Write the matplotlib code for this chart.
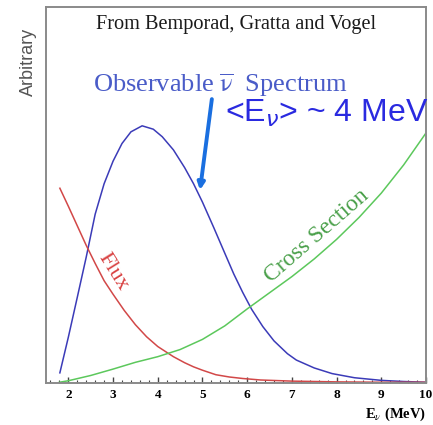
import matplotlib
matplotlib.use("Agg")
import matplotlib.pyplot as plt
from matplotlib.ticker import MultipleLocator

# ---- data (arbitrary units) ----
spec_E = [1.81, 2.0, 2.2, 2.4, 2.6, 2.8, 3.0, 3.2, 3.4, 3.65, 3.9, 4.1, 4.35, 4.6, 4.8,
          5.0, 5.25, 5.5, 5.7, 5.9, 6.1, 6.35, 6.6, 6.9, 7.1, 7.5, 7.9, 8.4, 9.0, 9.5, 10.0]
spec_y = [0.027, 0.122, 0.228, 0.335, 0.449, 0.530, 0.590, 0.637, 0.668, 0.684, 0.675,
          0.655, 0.620, 0.573, 0.530, 0.481, 0.414, 0.345, 0.290, 0.241, 0.196, 0.150,
          0.112, 0.078, 0.061, 0.040, 0.025, 0.014, 0.007, 0.004, 0.002]

flux_E = [1.81, 2.0, 2.2, 2.4, 2.6, 2.8, 3.0, 3.25, 3.5, 3.75, 4.0, 4.35, 4.6, 4.8, 5.0,
          5.3, 5.6, 5.9, 6.3, 7.0, 8.0, 9.0, 10.0]
flux_y = [0.518, 0.470, 0.418, 0.366, 0.318, 0.272, 0.236, 0.193, 0.155, 0.123, 0.097,
          0.070, 0.054, 0.043, 0.034, 0.022, 0.016, 0.012, 0.008, 0.005, 0.003, 0.002, 0.002]

xsec_E = [1.8, 2.0, 2.5, 3.0, 3.5, 4.0, 4.5, 5.0, 5.5, 6.0, 6.5, 7.0, 7.5, 8.0, 8.5,
          9.0, 9.5, 10.0]
xsec_y = [0.002, 0.006, 0.020, 0.037, 0.055, 0.070, 0.089, 0.116, 0.152, 0.197, 0.240,
          0.283, 0.330, 0.382, 0.440, 0.505, 0.580, 0.665]

x_ticks = [2, 3, 4, 5, 6, 7, 8, 9, 10]
x_tick_labels = ["2", "3", "4", "5", "6", "7", "8", "9", "10"]

plt.rcParams["mathtext.fontset"] = "stix"

fig = plt.figure(figsize=(4.33, 4.25), dpi=100)
ax = fig.add_axes([46/433, 1-383/425, 380/433, 376/425])

blue = "#3b3bb8"
red = "#d24848"
green = "#5cc85c"

ax.plot(spec_E, spec_y, color=blue, lw=1.1)
ax.plot(flux_E, flux_y, color=red, lw=1.1)
ax.plot(xsec_E, xsec_y, color=green, lw=1.1)

ax.set_xlim(1.5, 10)
ax.set_ylim(0, 1)

for s in ax.spines.values():
    s.set_color("#8a8a8a")
    s.set_linewidth(1.4)

ax.set_yticks([])
ax.set_xticks(x_ticks)
ax.set_xticklabels(x_tick_labels, family="Liberation Serif", fontweight="bold", fontsize=9.5)
ax.xaxis.set_minor_locator(MultipleLocator(0.2))
ax.tick_params(axis="x", which="major", direction="in", length=4, width=1, color="#444444", pad=4)
ax.tick_params(axis="x", which="minor", direction="in", length=2, width=0.8, color="#444444")

ax.set_xlabel(r"E$_{\nu}$ (MeV)", family="Liberation Serif", fontweight="bold",
              fontsize=10.5, loc="right", labelpad=4)

fig.text(28/433, 1-62/425, "Arbitrary", rotation=90, ha="center", va="center",
         family="Liberation Sans", fontsize=13, color="#555555")

ax.text(0.5, 1-(25-7)/376, "From Bemporad, Gratta and Vogel", transform=ax.transAxes,
        ha="center", va="center", family="Liberation Serif", fontsize=14.6, color="#1a1a1a")

ax.text(0.46, (383-85)/376, r"Observable $\overline{\mathrm{\nu}}$  Spectrum", transform=ax.transAxes,
        ha="center", va="center", family="Liberation Serif", fontsize=19, color="#4a5cc8")

ax.text((225-46)/380, (383-113)/376, r"<E$_{\nu}$> ~ 4 MeV", transform=ax.transAxes,
        ha="left", va="center", family="Liberation Sans", fontsize=23, color="#2a2ae0",
        math_fontfamily="dejavusans", clip_on=False)

ax.annotate("", xy=(4.945, 0.513), xytext=(5.21, 0.755),
            arrowprops=dict(arrowstyle="-|>", color="#1a6fe0", lw=2.8,
                            mutation_scale=10, shrinkA=0, shrinkB=0))

ax.text(3.0, 0.295, "Flux", rotation=-58, ha="center", va="center",
        family="Liberation Serif", fontsize=16, color="#d84040")
ax.text(7.55, 0.39, "Cross Section", rotation=41, ha="center", va="center",
        family="Liberation Serif", fontsize=17, color="#4aa04a")

fig.savefig("out.png", dpi=100)
